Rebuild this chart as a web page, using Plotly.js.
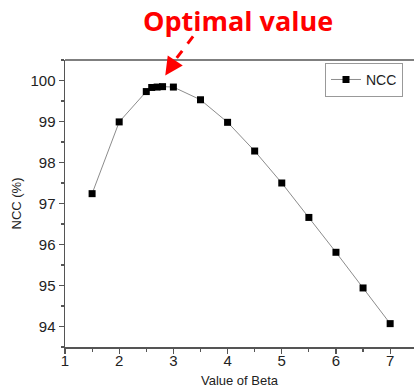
<!DOCTYPE html>
<html>
<head>
<meta charset="utf-8">
<script src="https://cdn.plot.ly/plotly-3.0.1.min.js"></script>
<style>html,body{margin:0;padding:0;background:#fff;}#chart{width:414px;height:389px;}</style>
</head>
<body>
<div id="chart"></div>
<script>
var beta = [1.5, 2.0, 2.5, 2.6, 2.7, 2.8, 3.0, 3.5, 4.0, 4.5, 5.0, 5.5, 6.0, 6.5, 7.0];
var ncc  = [97.24, 98.99, 99.73, 99.83, 99.84, 99.85, 99.84, 99.53, 98.98, 98.28, 97.50, 96.66, 95.81, 94.94, 94.07];
var seriesName = 'NCC';
var titleText = 'Optimal value';
var xTitle = 'Value of Beta';
var yTitle = 'NCC (%)';

var trace = {
  x: beta, y: ncc, name: seriesName, type: 'scatter', mode: 'lines+markers',
  line: {color: '#8c8c8c', width: 1},
  marker: {symbol: 'square', size: 7, color: '#000'}
};

var axisCommon = {
  showgrid: false, zeroline: false, showline: true, linecolor: '#555', linewidth: 1.5,
  ticks: 'outside', ticklen: 5, tickwidth: 1.2, tickcolor: '#555',
  tickfont: {family: 'Liberation Sans, Arial', size: 15, color: '#222'},
  dtick: 1
};

var layout = {
  width: 414, height: 389,
  margin: {l: 65, r: 0, t: 60, b: 42},
  paper_bgcolor: '#fff', plot_bgcolor: '#fff',
  showlegend: true,
  title: {
    text: '<b>' + titleText + '</b>',
    font: {family: 'Open Sans, Noto Sans', size: 27, color: '#ff0000'},
    xref: 'container', yref: 'container', x: 0.575, xanchor: 'center', y: 0.945, yanchor: 'middle'
  },
  xaxis: Object.assign({}, axisCommon, {
    range: [1, 7.44], tick0: 1,
    ticklabelstandoff: -6,
    minor: {dtick: 0.5, ticks: 'outside', ticklen: 3, tickcolor: '#555'},
    title: {text: xTitle, font: {family: 'Liberation Sans, Arial', size: 13, color: '#222'}, standoff: 8}
  }),
  yaxis: Object.assign({}, axisCommon, {
    range: [93.5, 100.5], tick0: 94,
    minor: {dtick: 0.5, ticks: 'outside', ticklen: 3, tickcolor: '#555'},
    title: {text: yTitle, font: {family: 'Liberation Sans, Arial', size: 13, color: '#222'}, standoff: 6}
  }),
  legend: {
    x: 0.745, y: 0.99, xanchor: 'left', yanchor: 'top',
    bordercolor: '#999', borderwidth: 1, bgcolor: '#fff',
    font: {family: 'Liberation Sans, Arial', size: 14, color: '#222'},
    tracegroupgap: 0
  },
  shapes: [
    {type: 'line', xref: 'paper', yref: 'paper', x0: 0, x1: 1, y0: 1, y1: 1,
     line: {color: '#555', width: 1.5}},
    {type: 'line', xref: 'paper', yref: 'paper', x0: 0.367, y0: 1.082, x1: 0.300, y1: 0.975,
     line: {color: '#ff0000', width: 3, dash: 'dash'}}
  ],
  annotations: [
    {x: 2.85, y: 100.12, xref: 'x', yref: 'y', text: '', showarrow: true,
     ax: 6, ay: -9, arrowhead: 2, arrowsize: 1.2, arrowwidth: 3, arrowcolor: '#ff0000', standoff: 0}
  ]
};

Plotly.newPlot('chart', [trace], layout, {displayModeBar: false, staticPlot: true});
</script>
</body>
</html>
